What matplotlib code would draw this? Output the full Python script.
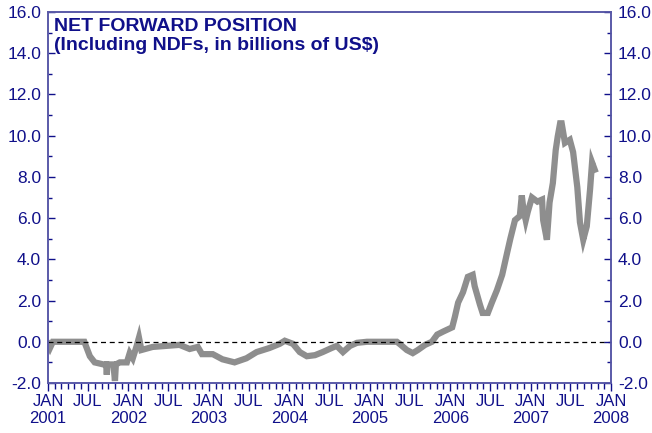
import matplotlib
matplotlib.use("Agg")
import matplotlib.pyplot as plt
import matplotlib.dates as mdates
import numpy as np
import pandas as pd

# net forward position (billions of US$)
dates = [
    "2001-01-01", "2001-01-10", "2001-01-23", "2001-03-15", "2001-06-15",
    "2001-07-10", "2001-08-01", "2001-09-10", "2001-09-22", "2001-09-25",
    "2001-09-28", "2001-10-25", "2001-11-01", "2001-11-05", "2001-11-23",
    "2001-12-25", "2002-01-07", "2002-01-21", "2002-02-09", "2002-02-18",
    "2002-03-01", "2002-04-21", "2002-08-21", "2002-10-06", "2002-11-12",
    "2002-12-01", "2003-01-19", "2003-03-04", "2003-04-28", "2003-06-21",
    "2003-08-06", "2003-10-04", "2003-11-19", "2003-12-12", "2004-01-18",
    "2004-02-18", "2004-03-21", "2004-04-27", "2004-06-01", "2004-07-12",
    "2004-08-04", "2004-09-01", "2004-10-03", "2004-11-04", "2004-12-19",
    "2005-05-04", "2005-05-16", "2005-06-18", "2005-07-15", "2005-08-07",
    "2005-09-09", "2005-10-10", "2005-11-03", "2005-12-01", "2006-01-10",
    "2006-01-22", "2006-02-06", "2006-02-28", "2006-03-22", "2006-04-13",
    "2006-04-22", "2006-05-16", "2006-05-28", "2006-06-21", "2006-07-09",
    "2006-08-01", "2006-08-25", "2006-09-16", "2006-10-01", "2006-10-22",
    "2006-11-13", "2006-11-22", "2006-11-28", "2006-12-10", "2006-12-19",
    "2007-01-07", "2007-02-01", "2007-02-22", "2007-02-27", "2007-03-16",
    "2007-03-28", "2007-04-12", "2007-04-25", "2007-05-04", "2007-05-15",
    "2007-05-22", "2007-06-06", "2007-06-28", "2007-07-13", "2007-08-01",
    "2007-08-13", "2007-08-28", "2007-09-13", "2007-09-28", "2007-10-07",
    "2007-10-19",
]
position = [
    -0.1, -0.3, 0.0, 0.0, 0.0,
    -0.7, -1.0, -1.1, -1.1, -1.6,
    -1.1, -1.1, -1.9, -1.1, -1.0,
    -1.0, -0.55, -0.8, -0.15, 0.2,
    -0.4, -0.25, -0.15, -0.35, -0.25,
    -0.6, -0.6, -0.85, -1.0, -0.8,
    -0.5, -0.3, -0.1, 0.05, -0.1,
    -0.5, -0.7, -0.65, -0.5, -0.3,
    -0.2, -0.5, -0.2, -0.05, 0.0,
    0.0, -0.1, -0.4, -0.55, -0.4,
    -0.15, 0.0, 0.35, 0.5, 0.7,
    1.2, 1.9, 2.4, 3.15, 3.25,
    2.7, 1.8, 1.4, 1.4, 1.9,
    2.5, 3.25, 4.3, 5.0, 5.9,
    6.1, 7.1, 6.55, 5.9, 6.3,
    7.0, 6.8, 6.9, 5.9, 4.95,
    6.75, 7.7, 9.3, 9.95, 10.6,
    10.6, 9.65, 9.8, 9.2, 7.5,
    5.8, 4.95, 5.6, 7.4, 8.7,
    8.35,
]

title_lines = ["NET FORWARD POSITION", "(Including NDFs, in billions of US$)"]

navy = "#10108a"
spine_col = "#5a5aa8"

plt.rcParams["font.family"] = ["Liberation Sans", "DejaVu Sans"]

x = pd.to_datetime(dates)

fig = plt.figure(figsize=(6.52, 4.33), dpi=100)
ax = fig.add_axes([48 / 652, 1 - 383 / 433, 563 / 652, 371 / 433])

ax.plot(x, position, color="#8e8e8e", lw=4.5, solid_joinstyle="miter")
ax.axhline(0, color="black", lw=0.9, ls=(0, (4, 3)))

ax.set_xlim(pd.Timestamp("2001-01-01"), pd.Timestamp("2008-01-01"))
ax.set_ylim(-2, 16)
ax.set_yticks(np.arange(-2, 17, 2))
ax.yaxis.set_minor_locator(matplotlib.ticker.MultipleLocator(1))
ax.yaxis.set_major_formatter(matplotlib.ticker.FormatStrFormatter("%.1f"))

ax.xaxis.set_major_locator(mdates.MonthLocator(bymonth=[1, 7]))
ax.xaxis.set_minor_locator(mdates.MonthLocator())


def fmt_date(v, pos=None):
    d = mdates.num2date(v)
    if d.month == 1:
        return "JAN\n%d" % d.year
    return "JUL"


ax.xaxis.set_major_formatter(matplotlib.ticker.FuncFormatter(fmt_date))

for s in ax.spines.values():
    s.set_color(spine_col)
    s.set_linewidth(1.2)

ax.tick_params(axis="x", which="major", direction="out", length=6, width=1,
               color=navy, labelcolor=navy, labelsize=12, pad=2)
ax.tick_params(axis="x", which="minor", direction="out", length=4, width=1,
               color=navy)
ax.tick_params(axis="y", which="major", direction="in", length=5, width=1,
               color=navy, labelcolor=navy, labelsize=12.5, pad=5)
ax.tick_params(axis="y", which="minor", direction="in", length=3, width=1,
               color=navy)
for lab in ax.get_xticklabels():
    lab.set_linespacing(1.15)

ax2 = ax.twinx()
ax2.set_ylim(ax.get_ylim())
ax2.set_yticks(np.arange(-2, 17, 2))
ax2.yaxis.set_minor_locator(matplotlib.ticker.MultipleLocator(1))
ax2.yaxis.set_major_formatter(matplotlib.ticker.FormatStrFormatter("%.1f"))
for s in ax2.spines.values():
    s.set_color(spine_col)
    s.set_linewidth(1.2)
ax2.tick_params(axis="y", which="major", direction="in", length=5, width=1,
                color=navy, labelcolor=navy, labelsize=12.5, pad=5)
ax2.tick_params(axis="y", which="minor", direction="in", length=3, width=1,
                color=navy)

ax.text(0.011, 0.985, "\n".join(title_lines), transform=ax.transAxes,
        ha="left", va="top", fontsize=14, fontweight="bold", color=navy,
        linespacing=1.2)

fig.savefig("out.png", dpi=100)
